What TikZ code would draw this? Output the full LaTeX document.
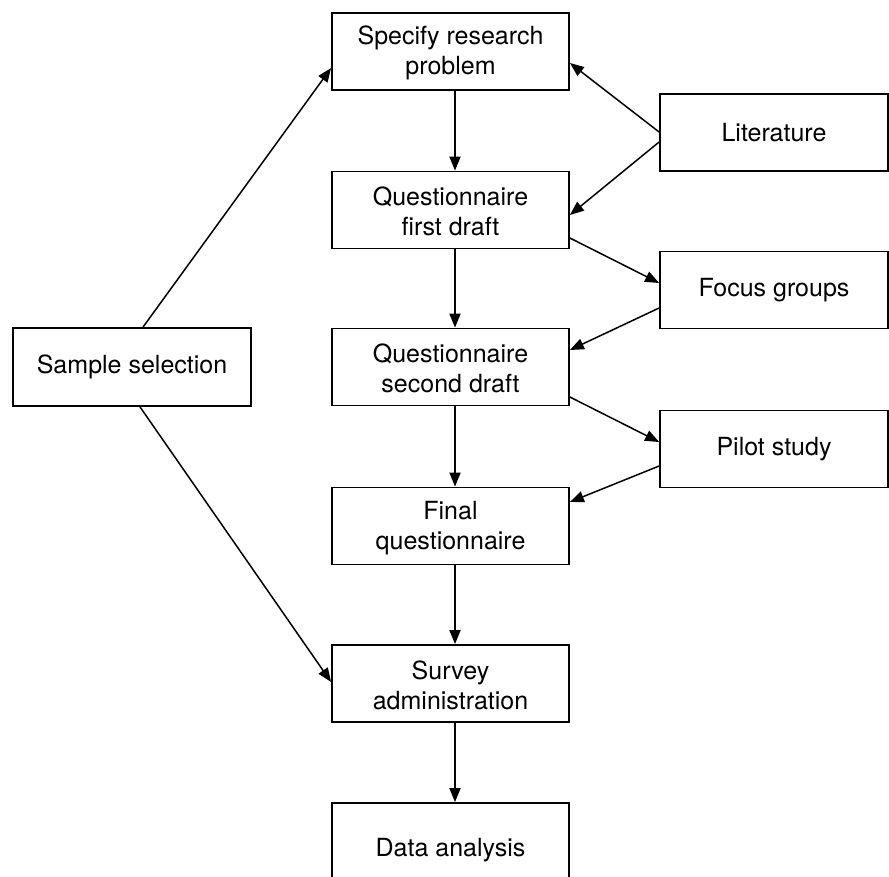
\documentclass[tikz,border=0pt]{standalone}
\usepackage{fontspec}
\setmainfont{TeX Gyre Heros}
\usetikzlibrary{arrows.meta,calc}

\tikzset{
  box/.style={draw, line width=1.8pt, rectangle, align=center, inner sep=0pt,
              font=\fontsize{25}{30}\selectfont},
  midbox/.style={box, minimum width=237pt, minimum height=77pt},
  sidebox/.style={box, minimum width=228pt, minimum height=77pt},
  flow/.style={line width=1.8pt, -{Triangle[length=14pt,width=11pt]}},
  side/.style={line width=1.5pt, -{Triangle[length=14pt,width=11pt]}}
}

\begin{document}
\begin{tikzpicture}[x=1pt, y=-1pt]
  \useasboundingbox (0,0) rectangle (889,876);
  \clip (0,0) rectangle (889,876);

  % main column
  \node[midbox] (spec) at (450.5,51.5)  {\rule{0pt}{22pt}Specify research\\problem};
  \node[midbox] (q1)   at (450.5,210)   {\rule{0pt}{22pt}Questionnaire\\first draft};
  \node[midbox] (q2)   at (450.5,367)   {\rule{0pt}{22pt}Questionnaire\\second draft};
  \node[midbox] (fin)  at (450.5,526)   {\rule{0pt}{22pt}Final\\questionnaire};
  \node[midbox] (surv) at (450.5,683.5) {\rule{0pt}{22pt}Survey\\administration};
  \node[midbox, minimum height=100pt, text depth=0pt] (data) at (450.5,853)
       {\raisebox{11pt}{Data analysis}};

  % inputs on the right
  \node[sidebox] (lit)   at (774,132.5) {Literature};
  \node[sidebox] (focus) at (774,290)   {Focus groups};
  \node[sidebox] (pilot) at (774,449)   {Pilot study};

  % sampling on the left
  \node[box, minimum width=238pt, minimum height=78pt] (samp) at (132,367) {Sample selection};

  % main sequence
  \draw[flow] ($(spec.south)+(4.5,0)$) -- ($(q1.north)+(4.5,0)$);
  \draw[flow] ($(q1.south)+(4.5,0)$)   -- ($(q2.north)+(4.5,0)$);
  \draw[flow] ($(q2.south)+(4.5,0)$)   -- ($(fin.north)+(4.5,0)$);
  \draw[flow] ($(fin.south)+(4.5,0)$)  -- ($(surv.north)+(4.5,0)$);
  \draw[flow] ($(surv.south)+(4.5,0)$) -- ($(data.north)+(4.5,0)$);

  % literature feeds the problem and the first draft
  \draw[side] ($(lit.west)+(0,-0.5)$) -- ($(spec.east)+(0,11.5)$);
  \draw[side] ($(lit.west)+(0,9.5)$)  -- ($(q1.east)+(0,5)$);

  % focus groups and pilot study loops
  \draw[side] ($(q1.east)+(0,28)$)     -- ($(focus.west)+(0,-7)$);
  \draw[side] ($(focus.west)+(0,18)$)  -- ($(q2.east)+(0,-17)$);
  \draw[side] ($(q2.east)+(0,30)$)     -- ($(pilot.west)+(0,-7)$);
  \draw[side] ($(pilot.west)+(0,17)$)  -- ($(fin.east)+(0,-24)$);

  % sample selection
  \draw[side] ($(samp.north)+(11,0)$) -- ($(spec.west)+(0,16.5)$);
  \draw[side] ($(samp.south)+(8,0)$)  -- ($(surv.west)+(0,-1.5)$);
\end{tikzpicture}
\end{document}
